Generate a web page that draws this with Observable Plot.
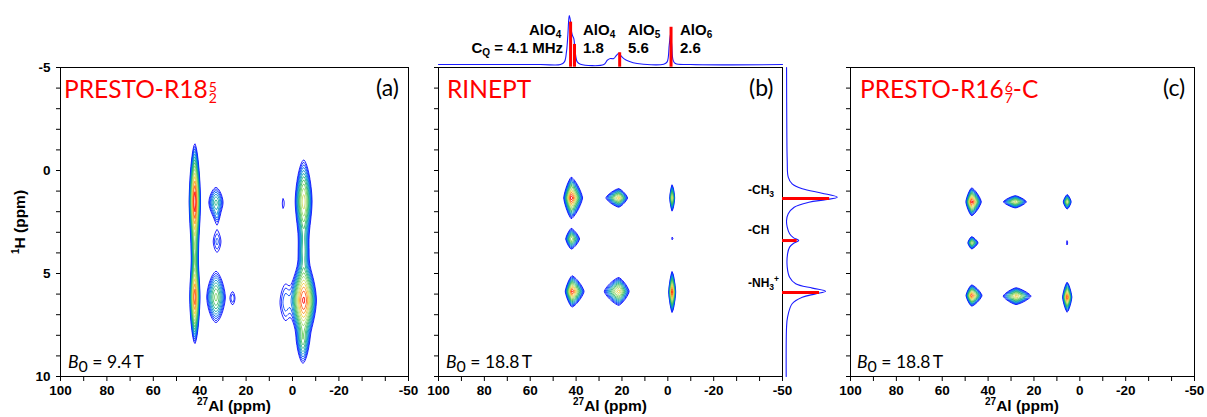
<!DOCTYPE html>
<html>
<head>
<meta charset="utf-8">
<script src="https://cdn.jsdelivr.net/npm/d3@7"></script>
<script src="https://cdn.jsdelivr.net/npm/@observablehq/plot@0.6"></script>
<style>
  body { margin: 0; background: #fff; }
  #fig { position: relative; width: 1207px; height: 417px; overflow: hidden; background: #fff;
         font-family: "Liberation Sans", Arial, sans-serif; }
  #fig svg { position: absolute; top: 0; }
  .lbl { position: absolute; white-space: nowrap; line-height: 1; }
  .title { font-family: Lato, sans-serif; color: #ff0000; font-size: 24.5px; }
  .frac { display: inline-block; vertical-align: top; font-size: 14px; line-height: 11.5px;
          padding-top: 3.5px; text-align: center; margin-left: 1px; }
  .frac span { display: block; }
  .tag { font-family: Lato, sans-serif; font-size: 23px; color: #000; }
  .field { font-family: Lato, sans-serif; font-size: 17.5px; color: #000; }
  .field sub { font-size: 16px; vertical-align: -4px; line-height: 0; }
  .axt { font-weight: bold; font-size: 15.5px; color: #000; }
  .axt sup { font-size: 10px; vertical-align: 6px; line-height: 0; }
  .ann { font-weight: bold; font-size: 15px; color: #000; }
  .ann sub { font-size: 10px; vertical-align: -2.5px; line-height: 0; }
  .grp { font-weight: bold; font-size: 12px; color: #000; }
  .grp sub { font-size: 8.5px; vertical-align: -3px; line-height: 0; }
  .grp sup { font-size: 8.5px; vertical-align: 5px; line-height: 0; }
</style>
</head>
<body>
<div id="fig"></div>
<script>
// ---- axes ----
const alTicks = d3.range(-50, 101, 10);
const alLabels = [100, 80, 60, 40, 20, 0, -20, -50];
const hTicks = d3.range(-5, 11, 1);
const hLabels = [-5, 0, 5, 10];

// contour levels (relative intensity) and their colours, low to high
const levels = [0.025, 0.032, 0.041, 0.052, 0.067, 0.086, 0.11, 0.14, 0.18, 0.23, 0.30, 0.38, 0.49, 0.62, 0.80];
const levelColors = ["#0000ff", "#0030ff", "#0070e8", "#00a0b8", "#20b070", "#60c850", "#b0e080", "#f0d040", "#ff8020", "#ff0000"];

// cross peaks: [27Al ppm, 1H ppm, 27Al width (high-ppm side), 27Al width (low-ppm side), 1H width, amplitude]
const peaksA = [
  [42.1, 1.5, 1.06, 1.06, 1.24, 1.0],
  [42.1, 6.15, 1.0, 1.0, 1.05, 0.75],
  [42.1, 3.8, 0.9, 0.9, 1.2, 0.15],
  [33.0, 1.55, 2.3, 2.3, 0.55, 0.12],
  [32.5, 2.2, 1.0, 1.0, 0.35, 0.03],
  [32.5, 3.45, 2.3, 2.3, 0.7, 0.045],
  [33.0, 6.15, 2.5, 2.5, 0.78, 0.2],
  [25.8, 6.2, 1.6, 1.6, 0.5, 0.04],
  [4.0, 1.6, 1.2, 1.2, 0.75, 0.03],
  [-4.8, 1.5, 1.97, 1.97, 1.1, 0.35],
  [-4.8, 6.3, 2.5, 2.5, 0.9, 0.85],
  [-4.5, 8.2, 1.8, 1.8, 0.8, 0.15],
  [-4.8, 3.9, 1.6, 1.6, 1.2, 0.12],
  [3.0, 6.4, 3.0, 3.0, 1.1, 0.05]
];
const peaksB = [
  [42.1, 1.33, 1.2, 1.8, 0.37, 1.0],
  [21.4, 1.33, 2.5, 1.7, 0.2, 0.45],
  [-1.9, 1.33, 0.46, 0.46, 0.3, 0.4],
  [42.1, 3.32, 1.2, 1.8, 0.25, 0.3],
  [-2.0, 3.3, 1.0, 1.0, 0.5, 0.03],
  [41.8, 5.87, 1.1, 2.0, 0.29, 0.85],
  [21.4, 5.87, 2.8, 2.0, 0.3, 0.45],
  [-1.9, 5.9, 0.55, 0.55, 0.38, 0.9]
];
const peaksC = [
  [47.2, 1.52, 0.9, 1.55, 0.25, 1.0],
  [28.1, 1.52, 2.5, 2.3, 0.14, 0.35],
  [5.5, 1.52, 0.8, 0.8, 0.17, 0.35],
  [47.2, 3.51, 0.8, 1.4, 0.15, 0.3],
  [5.5, 3.51, 1.0, 1.0, 0.5, 0.03],
  [47.2, 6.07, 0.92, 1.75, 0.2, 0.8],
  [27.8, 6.1, 2.5, 2.9, 0.18, 0.45],
  [5.5, 6.15, 0.75, 0.75, 0.28, 0.85]
];
const shapeA = 1.6;
const shapeBC = 1.3;

// 27Al projection over (b): ppm, relative intensity
const alProjPpm = [100, 55.5, 46.8, 45.1, 44.2, 43.6, 43.0, 42.6, 42.1, 41.6, 41.0, 40.4, 39.5, 38.1, 27.9, 26.4, 25.0, 23.6, 22.4, 21.2, 20.6, 19.2, 17.0, 13.4, 1.8, 0.3, -0.6, -1.2, -1.7, -2.3, -3.3, -9.9, -50];
const alProjInt = [0, 0, 0, 5.4, 25.7, 59.5, 100, 93, 69.6, 59.5, 52.7, 25.7, 5.4, 0.7, 0, 8.8, 12.2, 12.2, 18.9, 23.6, 18.9, 12.2, 6.8, 2, 0.7, 5.4, 39, 62.8, 39, 8.8, 2, 0, 0];
const alSitePpm = [42.4, 40.7, 21.0, -1.4];
const alSiteInt = [86.5, 41, 24, 76];

// 1H projection beside (b): ppm, relative intensity
const hProjPpm = [-5.0, -2, -0.49, 0.32, 0.65, 0.89, 1.10, 1.30, 1.42, 1.54, 1.78, 2.10, 2.43, 2.75, 3.07, 3.27, 3.40, 3.53, 3.72, 4.05, 4.69, 5.18, 5.50, 5.71, 5.86, 5.99, 6.15, 6.47, 7.12, 7.61, 10];
const hProjInt = [0, 0.5, 1.3, 3.3, 11, 31, 70, 100, 77, 44, 15, 3.3, 0, 1.3, 6, 14, 24, 14, 6, 2, 1.3, 6, 18, 51, 77, 57, 31, 11, 2, 0, -0.7];
const hSitePpm = [1.36, 3.40, 5.92];
const hSiteInt = [85, 21, 65];

// ---- helpers ----
function field(peaks, p) {
  return (x, y) => {
    let s = 0;
    for (const [x0, y0, wl, wr, hy, a] of peaks) {
      const dx = x - x0;
      const u = Math.abs(dx) / (dx > 0 ? wl : wr);
      const v = Math.abs(y - y0) / hy;
      const e = Math.pow(u, p) + Math.pow(v, p);
      if (e < 14) s += a * Math.exp(-e);
    }
    return s;
  };
}

const fig = document.getElementById("fig");
const axisStyle = {background: "transparent", overflow: "visible", color: "black",
  fontFamily: "'Liberation Sans', Arial, sans-serif", fontSize: "13.5px", fontWeight: "bold"};

function panel(left, width, ml, mr, peaks, shape, labelled) {
  const svg = Plot.plot({
    width, height: 417, marginLeft: ml, marginRight: mr, marginTop: 67, marginBottom: 41,
    style: axisStyle,
    x: {domain: [100, -50], ticks: alTicks, tickSize: 5, tickPadding: 4,
        tickFormat: d => alLabels.includes(d) ? String(d) : "", label: null},
    y: {domain: [10, -5], ticks: hTicks, tickSize: 4, tickPadding: 6,
        tickFormat: d => labelled && hLabels.includes(d) ? String(d) : "", label: null},
    color: {type: "log", domain: [levels[0], levels[levels.length - 1]],
            interpolate: d3.piecewise(d3.interpolateRgb, levelColors)},
    marks: [
      Plot.contour({value: field(peaks, shape), x1: 100, x2: -50, y1: -5, y2: 10,
        thresholds: levels, stroke: "value", fill: "none", strokeWidth: 0.85, pixelSize: 1}),
      Plot.frame({stroke: "black", strokeWidth: 1})
    ]
  });
  svg.style.left = left + "px";
  fig.appendChild(svg);
}

panel(0, 420, 60, 12, peaksA, shapeA, true);
panel(420, 362, 18, 0, peaksB, shapeBC, false);
panel(830, 377, 20, 13, peaksC, shapeBC, false);

// 27Al projection
const alProj = alProjPpm.map((ppm, i) => ({ppm, i: alProjInt[i]}));
const alSites = alSitePpm.map((ppm, i) => ({ppm, i: alSiteInt[i]}));
const top1 = Plot.plot({
  width: 344, height: 70, marginLeft: 0, marginRight: 0, marginTop: 15, marginBottom: 3.3,
  style: {background: "transparent", overflow: "visible"},
  x: {domain: [100, -50], axis: null}, y: {domain: [-5.4, 100], axis: null},
  marks: [
    Plot.line(alProj, {x: "ppm", y: "i", stroke: "#1a1aff", strokeWidth: 1.1, curve: "catmull-rom"}),
    Plot.ruleX(alSites, {x: "ppm", y1: -5.4, y2: "i", stroke: "#ff0000", strokeWidth: 3})
  ]
});
top1.style.left = "438px";
fig.appendChild(top1);

// 1H projection
const hProj = hProjPpm.map((ppm, i) => ({ppm, i: hProjInt[i]}));
const hSites = hSitePpm.map((ppm, i) => ({ppm, i: hSiteInt[i]}));
const side = Plot.plot({
  width: 60, height: 417, marginLeft: 0, marginRight: 0, marginTop: 67, marginBottom: 41,
  style: {background: "transparent", overflow: "visible"},
  x: {domain: [-8, 110.3], axis: null}, y: {domain: [10, -5], axis: null},
  marks: [
    Plot.line(hProj, {x: "i", y: "ppm", stroke: "#1a1aff", strokeWidth: 1.1, curve: "catmull-rom"}),
    Plot.ruleY(hSites, {y: "ppm", x1: -8, x2: "i", stroke: "#ff0000", strokeWidth: 3})
  ]
});
side.style.left = "782px";
fig.appendChild(side);

// ---- text ----
function label(html, cls, css) {
  const d = document.createElement("div");
  d.className = "lbl " + cls;
  d.innerHTML = html;
  Object.assign(d.style, css);
  fig.appendChild(d);
  return d;
}
label('PRESTO-R18<span class="frac"><span>5</span><span>2</span></span>', "title", {left: "64px", top: "77px"});
label('RINEPT', "title", {left: "447px", top: "77px"});
label('PRESTO-R16<span class="frac"><span>6</span><span>7</span></span>-C', "title", {left: "860px", top: "77px"});
label('(a)', "tag", {left: "376px", top: "76px"});
label('(b)', "tag", {left: "749px", top: "76px"});
label('(c)', "tag", {left: "1163px", top: "76px"});
label('<i>B</i><sub>0</sub> = 9.4&#8201;T', "field", {left: "68px", top: "353px"});
label('<i>B</i><sub>0</sub> = 18.8&#8201;T', "field", {left: "446px", top: "353px"});
label('<i>B</i><sub>0</sub> = 18.8&#8201;T', "field", {left: "857px", top: "353px"});
for (const cx of [234, 610, 1022]) {
  const d = label('<sup>27</sup>Al (ppm)', "axt", {left: cx + "px", top: "398px"});
  d.style.transform = "translateX(-50%)";
}
const yl = label('<sup>1</sup>H (ppm)', "axt", {left: "20px", top: "222px"});
yl.style.transform = "translate(-50%, -50%) rotate(-90deg)";

label('AlO<sub>4</sub>', "ann", {left: "529px", top: "22px"});
const cq = label('C<sub>Q</sub> = 4.1 MHz', "ann", {left: "563px", top: "40px"});
cq.style.transform = "translateX(-100%)";
label('AlO<sub>4</sub>', "ann", {left: "583px", top: "22px"});
label('1.8', "ann", {left: "583px", top: "40px"});
label('AlO<sub>5</sub>', "ann", {left: "628px", top: "22px"});
label('5.6', "ann", {left: "628px", top: "40px"});
label('AlO<sub>6</sub>', "ann", {left: "680px", top: "22px"});
label('2.6', "ann", {left: "680px", top: "40px"});

label('-CH<sub>3</sub>', "grp", {left: "748px", top: "184px"});
label('-CH', "grp", {left: "748px", top: "224px"});
label('-NH<sub>3</sub><sup>+</sup>', "grp", {left: "748px", top: "277px"});
</script>
</body>
</html>
